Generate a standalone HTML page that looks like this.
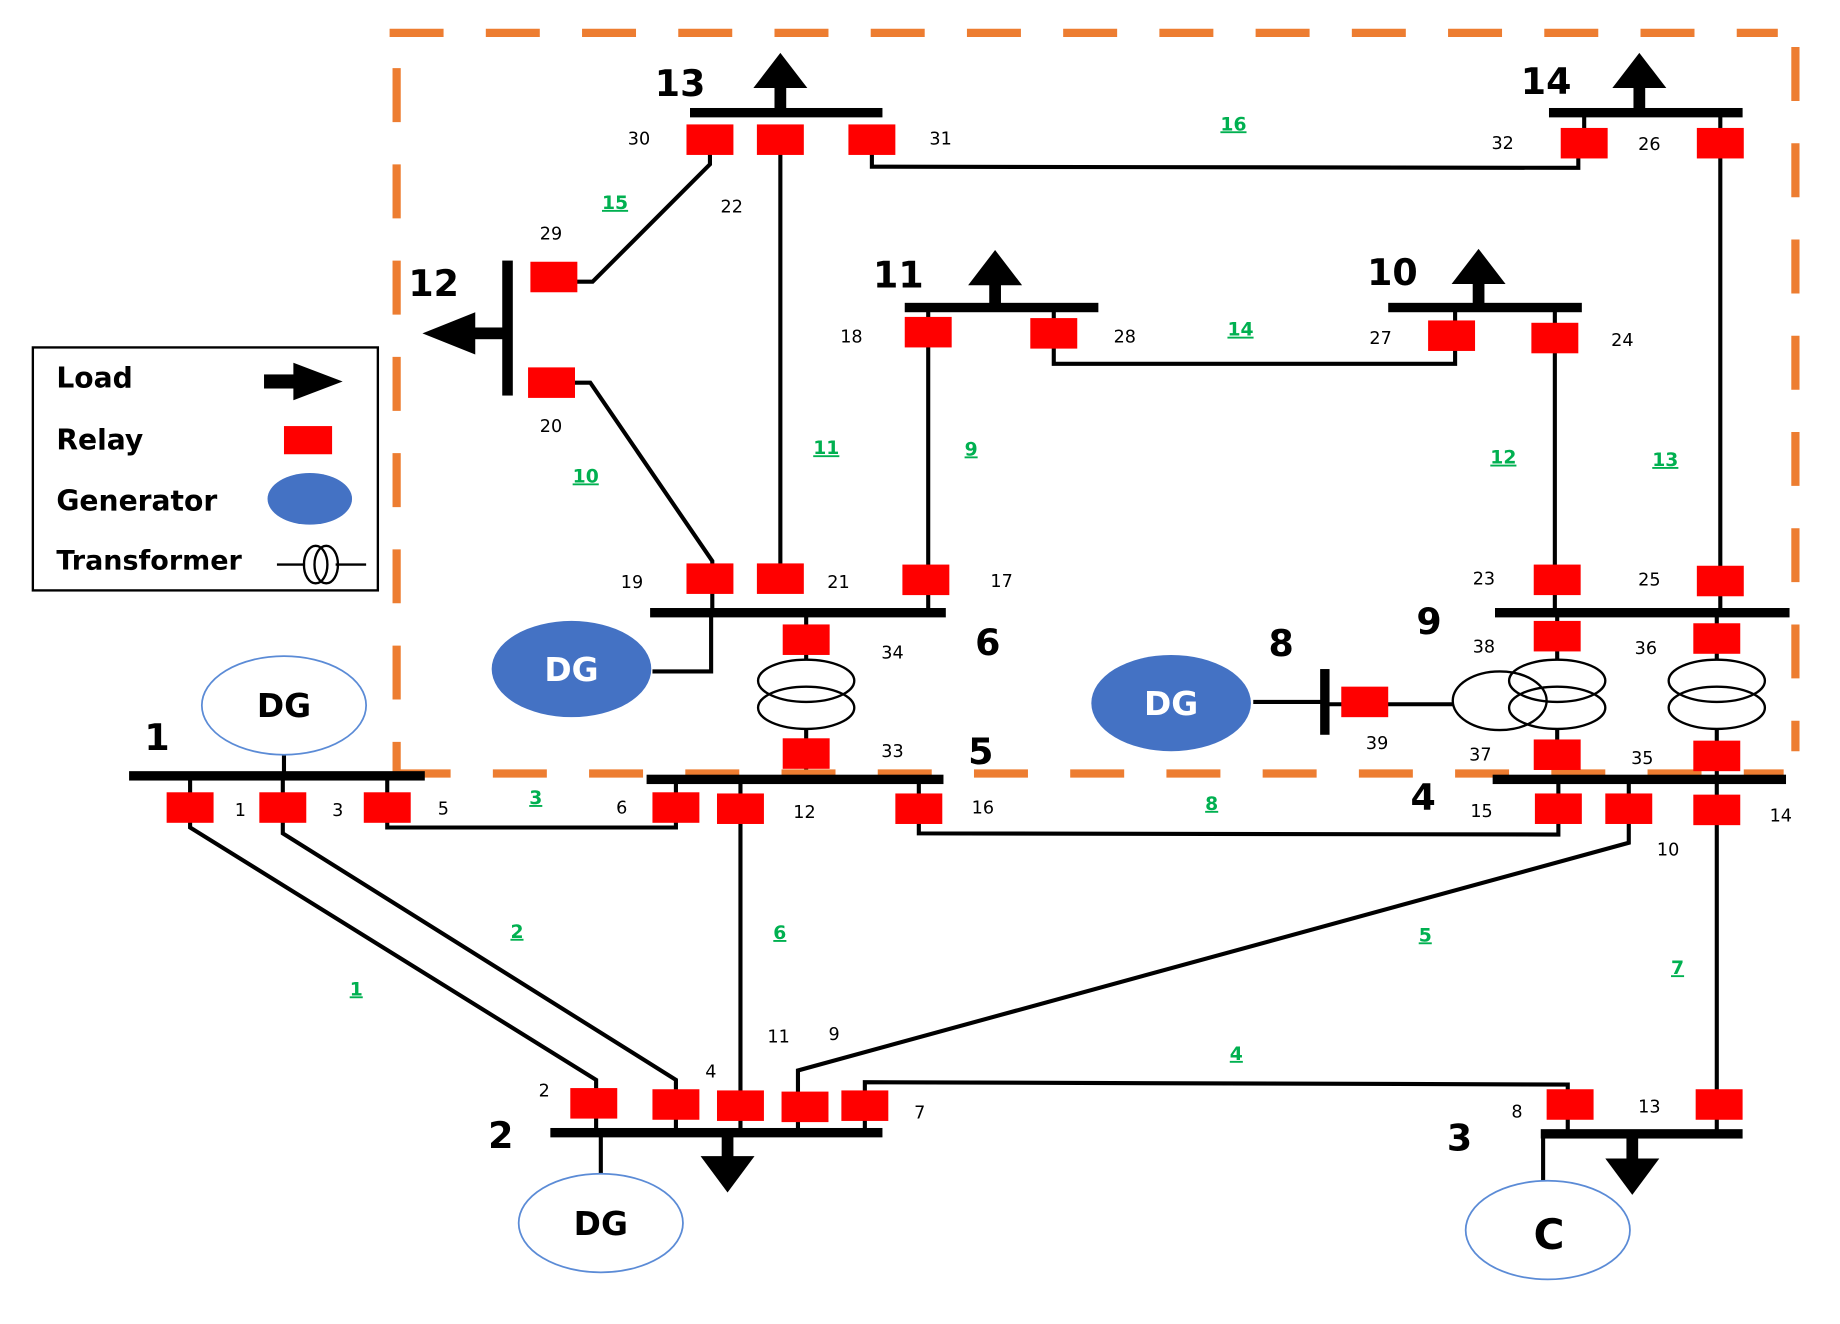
<!DOCTYPE html>
<html><head><meta charset="utf-8"><style>
html,body{margin:0;padding:0;background:#fff;}
svg{display:block;}
.n{font-family:"DejaVu Sans","Liberation Sans",sans-serif;font-size:15px;fill:#000;}
.g{font-family:"DejaVu Sans","Liberation Sans",sans-serif;font-size:16px;font-weight:bold;fill:#00B050;text-decoration:underline;}
.b{font-family:"DejaVu Sans","Liberation Sans",sans-serif;font-size:31px;font-weight:bold;fill:#000;}
.l{font-family:"DejaVu Sans","Liberation Sans",sans-serif;font-size:24px;font-weight:bold;fill:#000;}
</style></head><body>
<svg width="1840" height="1324" viewBox="0 0 1568 1128" preserveAspectRatio="none" xmlns="http://www.w3.org/2000/svg">
<defs>
<rect id="r" x="-20" y="-13" width="40" height="26" fill="#FF0000"/>
</defs>
<g stroke="#000" stroke-width="3.5" fill="none">
<polyline points="605,119 605,140 505,240 480,240"/>
<line x1="665" y1="119" x2="665" y2="493"/>
<polyline points="743,119 743,142 1345,143 1345,122"/>
<line x1="1466" y1="96" x2="1466" y2="522"/>
<polyline points="480,326 503,326 607,478 607,522"/>
<line x1="791" y1="262" x2="791" y2="522"/>
<polyline points="898,262 898,310 1240,310 1240,262"/>
<line x1="1325" y1="262" x2="1325" y2="522"/>
<polyline points="556,572 606,572 606,522"/>
<line x1="687" y1="522" x2="687" y2="562"/><line x1="687" y1="621" x2="687" y2="664"/>
<line x1="1327" y1="522" x2="1327" y2="562"/><line x1="1327" y1="621" x2="1327" y2="664"/>
<line x1="1463" y1="522" x2="1463" y2="562"/><line x1="1463" y1="621" x2="1463" y2="664"/>
<line x1="1068" y1="598" x2="1129" y2="598"/>
<line x1="1129" y1="600" x2="1238" y2="600"/>
<line x1="242" y1="642" x2="242" y2="661"/>
<polyline points="330,661 330,705 576,705 576,664"/>
<polyline points="162,661 162,705 508,920 508,965"/>
<polyline points="241,661 241,710 576,920 576,965"/>
<line x1="631" y1="664" x2="631" y2="965"/>
<polyline points="783,664 783,710 1328,711 1328,664"/>
<polyline points="1388,664 1388,718 680,912 680,965"/>
<polyline points="737,965 737,922 1336,924 1336,966"/>
<line x1="1463" y1="664" x2="1463" y2="966"/>
<line x1="512" y1="965" x2="512" y2="1000"/>
<line x1="1315" y1="966" x2="1315" y2="1006"/>
<line x1="1350" y1="96" x2="1350" y2="122"/>
</g>
<g stroke="#ED7D31" stroke-width="7" stroke-dasharray="46,36" fill="none">
<line x1="332" y1="28" x2="1515" y2="28"/>
<line x1="1530" y1="40" x2="1530" y2="640"/>
<line x1="338" y1="58" x2="338" y2="659"/>
<line x1="338" y1="659" x2="1520" y2="659"/>
</g>
<g fill="#000">
<rect x="588" y="92" width="164" height="8"/>
<rect x="1320" y="92" width="165" height="8"/>
<rect x="428" y="222" width="9" height="115"/>
<rect x="771" y="258" width="165" height="8"/>
<rect x="1183" y="258" width="165" height="8"/>
<rect x="554" y="518" width="252" height="8"/>
<rect x="1274" y="518" width="251" height="8"/>
<rect x="551" y="660" width="253" height="8"/>
<rect x="1272" y="660" width="250" height="8"/>
<rect x="110" y="657" width="252" height="8"/>
<rect x="469" y="961" width="283" height="8"/>
<rect x="1313" y="962" width="172" height="8"/>
<rect x="1125" y="570" width="8" height="56"/>
<rect x="660" y="70" width="10" height="26"/><polygon points="642,75 688,75 665,45"/>
<rect x="1392" y="70" width="10" height="26"/><polygon points="1374,75 1420,75 1397,45"/>
<rect x="843" y="238" width="10" height="22"/><polygon points="825,243 871,243 848,213"/>
<rect x="1255" y="238" width="10" height="22"/><polygon points="1237,242 1283,242 1260,212"/>
<rect x="400" y="279" width="30" height="10"/><polygon points="405,266 405,302 360,284"/>
<rect x="615" y="965" width="10" height="22"/><polygon points="597,985 643,985 620,1016"/>
<rect x="1386" y="966" width="10" height="22"/><polygon points="1368,987 1414,987 1391,1018"/>
</g>
<g stroke="#000" stroke-width="2" fill="none">
<ellipse cx="687" cy="580" rx="41" ry="18"/><ellipse cx="687" cy="603" rx="41" ry="18"/>
<ellipse cx="1278" cy="597" rx="40" ry="25"/>
<ellipse cx="1327" cy="580" rx="41" ry="18"/><ellipse cx="1327" cy="603" rx="41" ry="18"/>
<ellipse cx="1463" cy="580" rx="41" ry="18"/><ellipse cx="1463" cy="603" rx="41" ry="18"/>
</g>
<g>
<use href="#r" x="605" y="119"/><use href="#r" x="665" y="119"/><use href="#r" x="743" y="119"/>
<use href="#r" x="1350" y="122"/><use href="#r" x="1466" y="122"/>
<use href="#r" x="472" y="236"/><use href="#r" x="470" y="326"/>
<use href="#r" x="791" y="283"/><use href="#r" x="898" y="284"/>
<use href="#r" x="1237" y="286"/><use href="#r" x="1325" y="288"/>
<use href="#r" x="605" y="493"/><use href="#r" x="665" y="493"/><use href="#r" x="789" y="494"/>
<use href="#r" x="687" y="545"/>
<use href="#r" x="1327" y="494"/><use href="#r" x="1466" y="495"/>
<use href="#r" x="1327" y="542"/><use href="#r" x="1463" y="544"/>
<use href="#r" x="687" y="642"/>
<use href="#r" x="576" y="688"/><use href="#r" x="631" y="689"/><use href="#r" x="783" y="689"/>
<use href="#r" x="1327" y="643"/><use href="#r" x="1463" y="644"/>
<use href="#r" x="1328" y="689"/><use href="#r" x="1388" y="689"/><use href="#r" x="1463" y="690"/>
<use href="#r" x="162" y="688"/><use href="#r" x="241" y="688"/><use href="#r" x="330" y="688"/>
<use href="#r" x="506" y="940"/><use href="#r" x="576" y="941"/><use href="#r" x="631" y="942"/><use href="#r" x="686" y="943"/><use href="#r" x="737" y="942"/>
<use href="#r" x="1338" y="941"/><use href="#r" x="1465" y="941"/>
<use href="#r" x="1163" y="598"/>
</g>
<ellipse cx="487" cy="570" rx="68" ry="41" fill="#4472C4"/>
<ellipse cx="998" cy="599" rx="68" ry="41" fill="#4472C4"/>
<ellipse cx="242" cy="601" rx="70" ry="42" fill="#fff" stroke="#5B8BD6" stroke-width="1.5"/>
<ellipse cx="512" cy="1042" rx="70" ry="42" fill="#fff" stroke="#5B8BD6" stroke-width="1.5"/>
<ellipse cx="1319" cy="1048" rx="70" ry="42" fill="#fff" stroke="#5B8BD6" stroke-width="1.5"/>
<g font-family="DejaVu Sans, Liberation Sans, sans-serif" font-weight="bold" text-anchor="middle">
<text x="487" y="580" font-size="28" fill="#fff">DG</text>
<text x="998" y="609" font-size="28" fill="#fff">DG</text>
<text x="242" y="611" font-size="28" fill="#000">DG</text>
<text x="512" y="1052" font-size="28" fill="#000">DG</text>
<text x="1320" y="1064" font-size="36" fill="#000">C</text>
</g>
<text class="b" x="558" y="82">13</text>
<text class="b" x="1296" y="80">14</text>
<text class="b" x="348" y="252">12</text>
<text class="b" x="744" y="245">11</text>
<text class="b" x="1165" y="243">10</text>
<text class="b" x="831" y="558">6</text>
<text class="b" x="1207" y="540">9</text>
<text class="b" x="1081" y="559">8</text>
<text class="b" x="825" y="651">5</text>
<text class="b" x="1202" y="690">4</text>
<text class="b" x="123" y="639">1</text>
<text class="b" x="416" y="978">2</text>
<text class="b" x="1233" y="980">3</text>
<g>
<text class="n" x="535" y="123">30</text><text class="n" x="792" y="123">31</text>
<text class="n" x="614" y="181">22</text><text class="n" x="460" y="204">29</text>
<text class="n" x="1271" y="127">32</text><text class="n" x="1396" y="128">26</text>
<text class="n" x="716" y="292">18</text><text class="n" x="949" y="292">28</text>
<text class="n" x="1167" y="293">27</text><text class="n" x="1373" y="295">24</text>
<text class="n" x="460" y="368">20</text>
<text class="n" x="529" y="501">19</text><text class="n" x="705" y="501">21</text><text class="n" x="844" y="500">17</text>
<text class="n" x="1255" y="498">23</text><text class="n" x="1396" y="499">25</text>
<text class="n" x="751" y="561">34</text><text class="n" x="1255" y="556">38</text><text class="n" x="1393" y="557">36</text>
<text class="n" x="1164" y="638">39</text><text class="n" x="751" y="645">33</text>
<text class="n" x="1252" y="648">37</text><text class="n" x="1390" y="651">35</text>
<text class="n" x="200" y="695">1</text><text class="n" x="283" y="695">3</text><text class="n" x="373" y="694">5</text>
<text class="n" x="525" y="693">6</text><text class="n" x="676" y="697">12</text><text class="n" x="828" y="693">16</text>
<text class="n" x="1253" y="696">15</text><text class="n" x="1508" y="700">14</text><text class="n" x="1412" y="729">10</text>
<text class="n" x="654" y="888">11</text><text class="n" x="706" y="886">9</text>
<text class="n" x="601" y="918">4</text><text class="n" x="459" y="934">2</text><text class="n" x="779" y="953">7</text>
<text class="n" x="1288" y="952">8</text><text class="n" x="1396" y="948">13</text>
</g>
<text class="g" x="1040" y="111">16</text>
<text class="g" x="513" y="178">15</text>
<text class="g" x="1046" y="286">14</text>
<text class="g" x="693" y="387">11</text>
<text class="g" x="822" y="388">9</text>
<text class="g" x="488" y="411">10</text>
<text class="g" x="1270" y="395">12</text>
<text class="g" x="1408" y="397">13</text>
<text class="g" x="451" y="685">3</text>
<text class="g" x="1027" y="690">8</text>
<text class="g" x="435" y="799">2</text>
<text class="g" x="659" y="800">6</text>
<text class="g" x="298" y="848">1</text>
<text class="g" x="1209" y="802">5</text>
<text class="g" x="1424" y="830">7</text>
<text class="g" x="1048" y="903">4</text>
<rect x="28" y="296" width="294" height="207" fill="#fff" stroke="#000" stroke-width="2"/>
<text class="l" x="48" y="330">Load</text>
<rect x="225" y="319" width="30" height="12" fill="#000"/><polygon points="250,309 250,341 292,325" fill="#000"/>
<text class="l" x="48" y="383">Relay</text>
<rect x="242" y="363" width="41" height="24" fill="#FF0000"/>
<text class="l" x="48" y="435">Generator</text>
<ellipse cx="264" cy="425" rx="36" ry="22" fill="#4472C4"/>
<text class="l" x="48" y="485" style="font-size:23px">Transformer</text>
<g stroke="#000" stroke-width="2" fill="none">
<line x1="236" y1="481" x2="260" y2="481"/><line x1="286" y1="481" x2="312" y2="481"/>
<ellipse cx="269" cy="481" rx="10" ry="16"/><ellipse cx="278" cy="481" rx="10" ry="16"/>
</g>
</svg>
</body></html>
